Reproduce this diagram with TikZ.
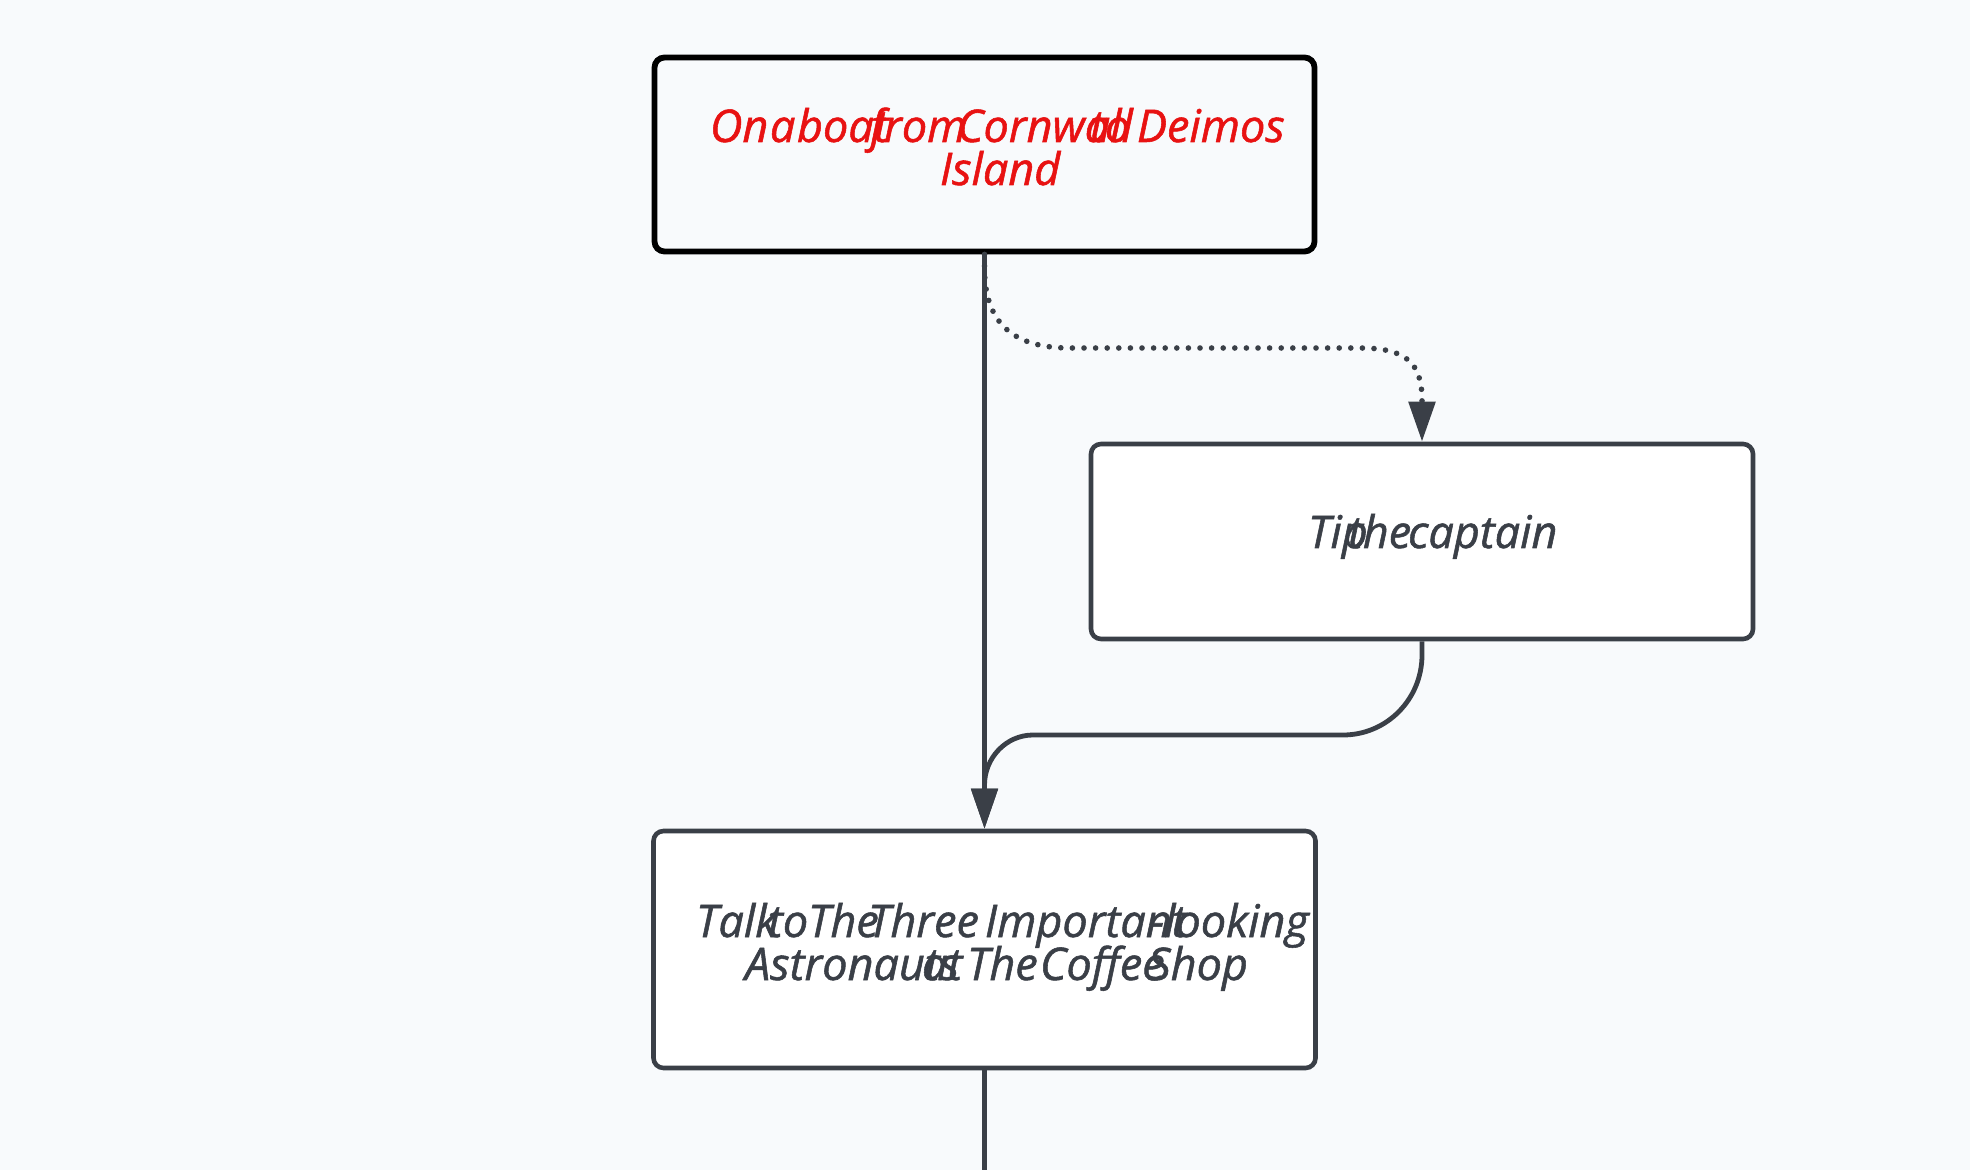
\documentclass[tikz,border=0pt]{standalone}
\usepackage{fontspec}
\setmainfont{Open Sans}
\newfontfamily\handfont{Open Sans}[FakeBold=1.2]
\usetikzlibrary{arrows.meta}
\definecolor{bg}{HTML}{F8FAFC}
\definecolor{ink}{HTML}{3A3F47}
\definecolor{redtxt}{HTML}{E81212}
\newlength\pxu
\setlength\pxu{0.5pt}
\newcommand\wbox[2]{\makebox[#1\pxu][l]{#2}}
\begin{document}
\begin{tikzpicture}[x=0.5pt,y=-0.5pt,
  box/.style={draw=ink, line width=2.3pt, rounded corners=5pt, fill=white,
    minimum width=331pt, minimum height=97.5pt, inner sep=0pt},
  word/.style={anchor=base west, inner sep=0pt, outer sep=0pt,
    font=\handfont\fontsize{22.5pt}{26pt}\selectfont\itshape, text=ink},
  conn/.style={draw=ink, line width=2.4pt, -{Triangle[length=20pt,width=13pt]}},
  plainline/.style={draw=ink, line width=2.4pt},
  dotline/.style={dash pattern=on 0pt off 5.8pt, line cap=round, line width=2.8pt}
  ]
\useasboundingbox[fill=bg] (0,0) rectangle (1970,1170);

% boxes
\node[box, draw=black, line width=2.9pt, fill=bg, minimum width=330pt, minimum height=97pt] (start) at (984.5,154.5) {};
\node[box] (tip) at (1422,541.5) {};
\node[box, minimum height=118.5pt] (talk) at (984.5,949.5) {};

% texts
\node[word, text=redtxt] (s1) at (710,142) {\wbox{60}{On}\wbox{27}{a}\wbox{73}{boat}\wbox{87}{from}\wbox{133}{Cornwall}\wbox{47}{to}Deimos};
\node[word, text=redtxt] (s2) at (940,185) {Island};
\node[word] (t1) at (1308,548) {\wbox{40}{Tip}\wbox{60}{the}captain};
\node[word] (b1) at (696,937) {\wbox{72}{Talk}\wbox{40}{to}\wbox{60}{The}\wbox{117}{Three}\wbox{165}{Important}-looking};
\node[word] (b2) at (745,980) {\wbox{177}{Astronauts}\wbox{45}{at}\wbox{73}{The}\wbox{108}{Coffee}Shop};

% connectors
\draw[conn] (start.south) -- (talk.north);
\draw[conn, dotline] (start.south) -- (984.5,268) .. controls (984.5,325) and (1015,348) .. (1070,348) -- (1360,348) .. controls (1405,348) and (1422,362) .. (1422,400) -- (tip.north);
\draw[conn] (tip.south) -- (1422,655) .. controls (1422,699) and (1387,735) .. (1343,735) -- (1033,735) .. controls (1006,735) and (984.5,758) .. (984.5,785) -- (talk.north);
\coordinate (out) at (984.5,1172);
\draw[plainline] (talk.south) -- (out);
\end{tikzpicture}
\end{document}
